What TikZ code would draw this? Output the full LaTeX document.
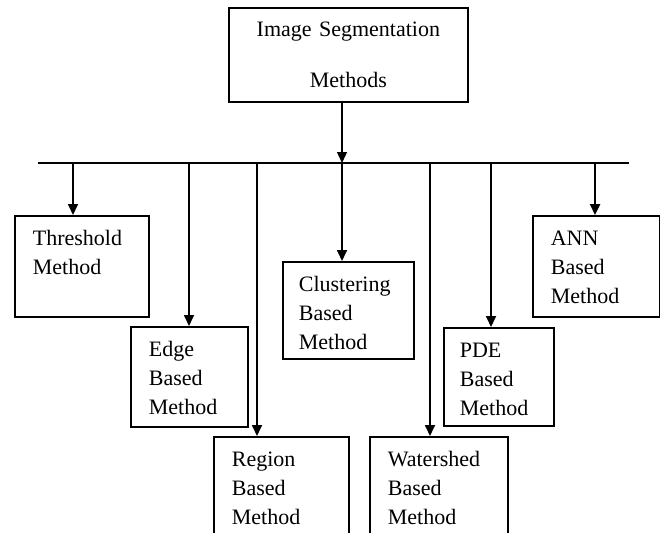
\documentclass[tikz,border=0pt]{standalone}
\usepackage{fontspec}
\setmainfont{Liberation Serif}
\usetikzlibrary{arrows.meta}
\begin{document}
\begin{tikzpicture}[x=1pt,y=-1pt,line width=1.7pt,
  box/.style={draw, rectangle, anchor=north west, inner ysep=0pt, inner xsep=18pt,
    text height=30pt, align=left, font=\fontsize{22}{29}\selectfont},
  arr/.style={-{Triangle[width=10pt,length=11pt]}}]
\useasboundingbox (0,0) rectangle (660,532);
\clip (0,0) rectangle (660,532);
% top node
\node[draw, rectangle, anchor=north west, inner sep=0pt, text width=239pt, align=center,
  text height=29pt, text depth=65pt, font=\fontsize{22}{51}\selectfont]
  (top) at (228,7) {Image Segmentation\\Methods};
% method boxes
\node[box, text width=98pt, text depth=71pt] (thr) at (14,215) {Threshold\\Method};
\node[box, text width=81pt, text depth=70pt] (edge) at (130,326) {Edge\\Based\\Method};
\node[box, text width=99pt, text depth=90pt] (reg) at (213,436) {Region\\Based\\Method};
\node[box, inner xsep=16pt, text width=99pt, text depth=67pt] (clu) at (282,261) {Clustering\\Based\\Method};
\node[box, text width=102pt, text depth=90pt] (wat) at (369,436) {Watershed\\Based\\Method};
\node[box, inner xsep=16pt, text width=78pt, text depth=68pt] (pde) at (443,327) {PDE\\Based\\Method};
\node[box, text width=91pt, text depth=71pt] (ann) at (532,215) {ANN\\Based\\Method};
% bus
\coordinate (busL) at (38,163);
\coordinate (busR) at (629,163);
\coordinate (b0) at (342,163);
\coordinate (b1) at (73,163);
\coordinate (b2) at (189,163);
\coordinate (b3) at (257,163);
\coordinate (b4) at (342,163);
\coordinate (b5) at (430,163);
\coordinate (b6) at (491,163);
\coordinate (b7) at (595,163);
\draw (busL) -- (busR);
\draw[arr, line width=1.3pt] (b0 |- top.south) -- (b0);
\draw[arr] (b1) -- (b1 |- thr.north);
\draw[arr] (b2) -- (b2 |- edge.north);
\draw[arr] (b3) -- (b3 |- reg.north);
\draw[arr] (b4) -- (b4 |- clu.north);
\draw[arr] (b5) -- (b5 |- wat.north);
\draw[arr] (b6) -- (b6 |- pde.north);
\draw[arr, line width=2.4pt] (b7) -- (b7 |- ann.north);
\end{tikzpicture}
\end{document}
